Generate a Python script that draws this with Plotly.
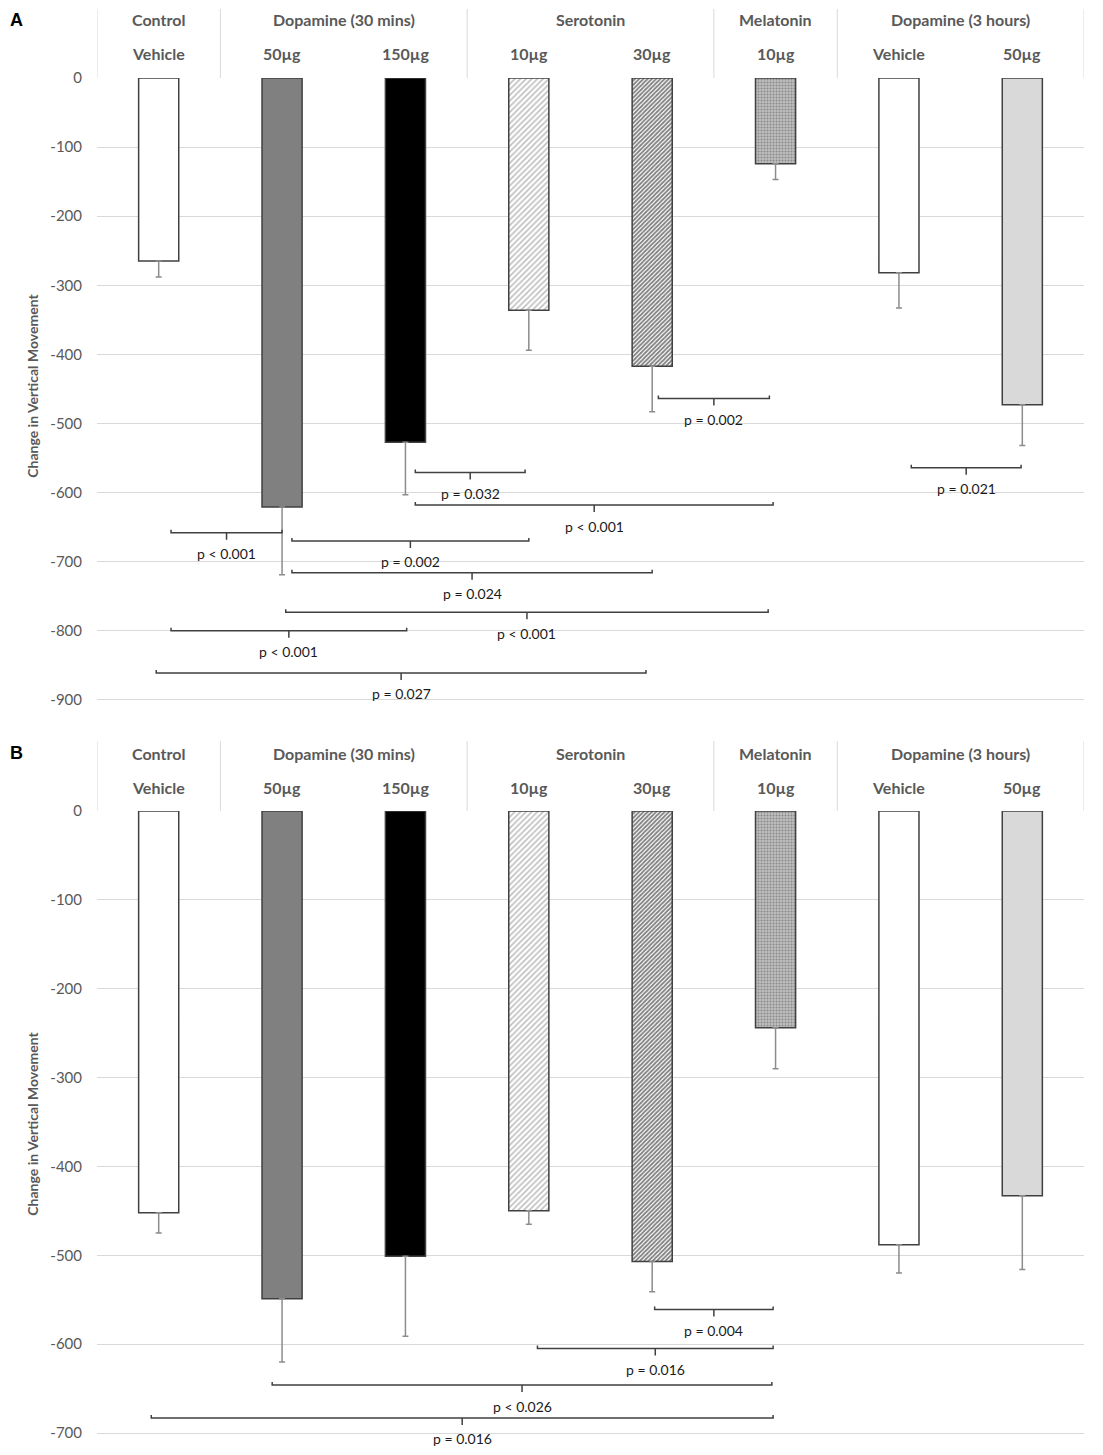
import plotly.graph_objects as go

# ---------------- data ----------------
groups = ["Control", "Dopamine (30 mins)", "Serotonin", "Melatonin", "Dopamine (3 hours)"]
group_centers = [0, 1.5, 3.5, 5, 6.5]
group_dividers = [-0.5, 0.5, 2.5, 4.5, 5.5, 7.5]
doses = ["Vehicle", "50µg", "150µg", "10µg", "30µg", "10µg", "Vehicle", "50µg"]

values_a = [-265, -621, -527, -336, -417, -124, -282, -473]
errors_a = [23, 98, 76, 58, 66, 23, 51, 59]
values_b = [-452, -549, -501, -450, -507, -244, -488, -433]
errors_b = [23, 71, 90, 15, 34, 46, 32, 83]

ticks_a = [0, -100, -200, -300, -400, -500, -600, -700, -800, -900]
ticks_b = [0, -100, -200, -300, -400, -500, -600, -700]

# brackets: (x_left, x_right, y, label)
brackets_a = [
    (4.05, 4.95, -464, "p = 0.002"),
    (2.08, 2.97, -571, "p = 0.032"),
    (2.08, 4.98, -618, "p < 0.001"),
    (0.10, 1.00, -658, "p < 0.001"),
    (1.08, 3.00, -670, "p = 0.002"),
    (1.08, 4.00, -716, "p = 0.024"),
    (1.03, 4.94, -773, "p < 0.001"),
    (0.10, 2.01, -800, "p < 0.001"),
    (-0.02, 3.95, -861, "p = 0.027"),
    (6.10, 6.99, -564, "p = 0.021"),
]
brackets_b = [
    (4.02, 4.98, -561, "p = 0.004"),
    (3.07, 4.98, -605, "p = 0.016"),
    (0.92, 4.97, -646, "p < 0.026"),
    (-0.06, 4.98, -683, "p = 0.016"),
]

# ---------------- styles ----------------
OUT = "#404040"
bar_styles = [
    dict(color="white"),
    dict(color="#808080"),
    dict(color="black"),
    dict(color="white", pattern=dict(shape="/", fgcolor="#808080", bgcolor="white", size=4, solidity=0.4)),
    dict(color="white", pattern=dict(shape="/", fgcolor="#000000", bgcolor="white", size=3, solidity=0.6)),
    dict(color="#b0b0b0", pattern=dict(shape=".", fgcolor="#555555", bgcolor="#bdbdbd", size=3, solidity=0.35)),
    dict(color="white"),
    dict(color="#d9d9d9"),
]

W, H = 1103, 1455
X0, X1 = 97, 1084
panels = [
    dict(name="A", vals=values_a, errs=errors_a, br=brackets_a, ticks=ticks_a, zero=78, ppu=0.691,
         ymin=-905, top=9, grp=20, dose=54),
    dict(name="B", vals=values_b, errs=errors_b, br=brackets_b, ticks=ticks_b, zero=811, ppu=0.8886,
         ymin=-715, top=741, grp=753, dose=787),
]

def py(px):
    return 1 - px / H

fig = go.Figure()
shapes = []
annotations = []
TXT = "#595959"
FONT = "Lato"

for k, p in enumerate(panels):
    xa = "x" if k == 0 else "x2"
    ya = "y" if k == 0 else "y2"
    for i in range(len(doses)):
        st = bar_styles[i]
        marker = dict(color=st["color"], line=dict(color=OUT, width=1.5))
        if "pattern" in st:
            marker["pattern"] = st["pattern"]
        fig.add_trace(go.Bar(
            x=[i], y=[p["vals"][i]], width=0.325, marker=marker,
            error_y=dict(type="data", symmetric=False, array=[0], arrayminus=[p["errs"][i]],
                         color="#8c8c8c", thickness=1.5, width=3),
            xaxis=xa, yaxis=ya, showlegend=False, hoverinfo="skip"))
    # brackets
    up = 3 / p["ppu"]
    dn = 7 / p["ppu"]
    for (x0, x1, y, lab) in p["br"]:
        xc = (x0 + x1) / 2
        shapes.append(dict(type="path", xref=xa, yref=ya,
                           path=f"M {x0},{y+up} L {x0},{y} L {x1},{y} L {x1},{y+up}",
                           line=dict(color="#404040", width=1.5)))
        shapes.append(dict(type="line", xref=xa, yref=ya, x0=xc, x1=xc, y0=y, y1=y - dn,
                           line=dict(color="#404040", width=1.5)))
        annotations.append(dict(x=xc, y=y, xref=xa, yref=ya, text=lab, showarrow=False,
                                yanchor="middle", yshift=-21,
                                font=dict(family=FONT, size=14, color="#1a1a1a")))
    # header dividers
    for d in group_dividers:
        shapes.append(dict(type="line", xref=xa, yref="paper", x0=d, x1=d,
                           y0=py(p["top"]), y1=py(p["zero"]),
                           line=dict(color="#d9d9d9", width=1)))
    for g, c in zip(groups, group_centers):
        annotations.append(dict(x=c, y=py(p["grp"]), xref=xa, yref="paper", text=f"<b>{g}</b>",
                                showarrow=False, yanchor="middle",
                                font=dict(family=FONT, size=16, color=TXT)))
    for i, d in enumerate(doses):
        annotations.append(dict(x=i, y=py(p["dose"]), xref=xa, yref="paper", text=f"<b>{d}</b>",
                                showarrow=False, yanchor="middle",
                                font=dict(family=FONT, size=16, color=TXT)))
    # panel letter
    annotations.append(dict(x=8 / W, y=py(p["grp"]), xref="paper", yref="paper", text=f"<b>{p['name']}</b>",
                            showarrow=False, xanchor="left", yanchor="middle",
                            font=dict(family="Liberation Sans", size=18, color="black")))
    # y title
    bottom_px = p["zero"] + (-p["ymin"]) * p["ppu"]
    annotations.append(dict(x=33 / W, y=py((p["zero"] + bottom_px) / 2 - 5), xref="paper", yref="paper",
                            text="<b>Change in Vertical Movement</b>", textangle=-90, showarrow=False,
                            xanchor="center", yanchor="middle",
                            font=dict(family=FONT, size=14, color=TXT)))
    p["dom"] = [py(bottom_px), py(p["zero"])]

axis_x = dict(range=[-0.5, 7.5], showticklabels=False, showgrid=False, zeroline=False,
              showline=False, ticks="", fixedrange=True)

def yaxis_for(p, anchor):
    return dict(domain=p["dom"], range=[p["ymin"], 0], anchor=anchor, automargin=False,
                tickmode="array", tickvals=p["ticks"], ticktext=[str(t) for t in p["ticks"]],
                showgrid=True, gridcolor="#d9d9d9", gridwidth=1, zeroline=False,
                showline=False, ticks="", ticklabelstandoff=14,
                tickfont=dict(family=FONT, size=15, color=TXT))

fig.update_layout(
    width=W, height=H, margin=dict(l=0, r=0, t=0, b=0, pad=0), autosize=False,
    paper_bgcolor="white", plot_bgcolor="white", barmode="overlay",
    xaxis=dict(domain=[X0 / W, X1 / W], anchor="y", automargin=False, **axis_x),
    xaxis2=dict(domain=[X0 / W, X1 / W], anchor="y2", automargin=False, **axis_x),
    yaxis=yaxis_for(panels[0], "x"),
    yaxis2=yaxis_for(panels[1], "x2"),
    shapes=shapes, annotations=annotations,
)

fig.write_html("out.html", config={"displayModeBar": False},
               post_script="document.body.style.margin='0';document.body.style.padding='0';document.documentElement.style.overflow='hidden';")
